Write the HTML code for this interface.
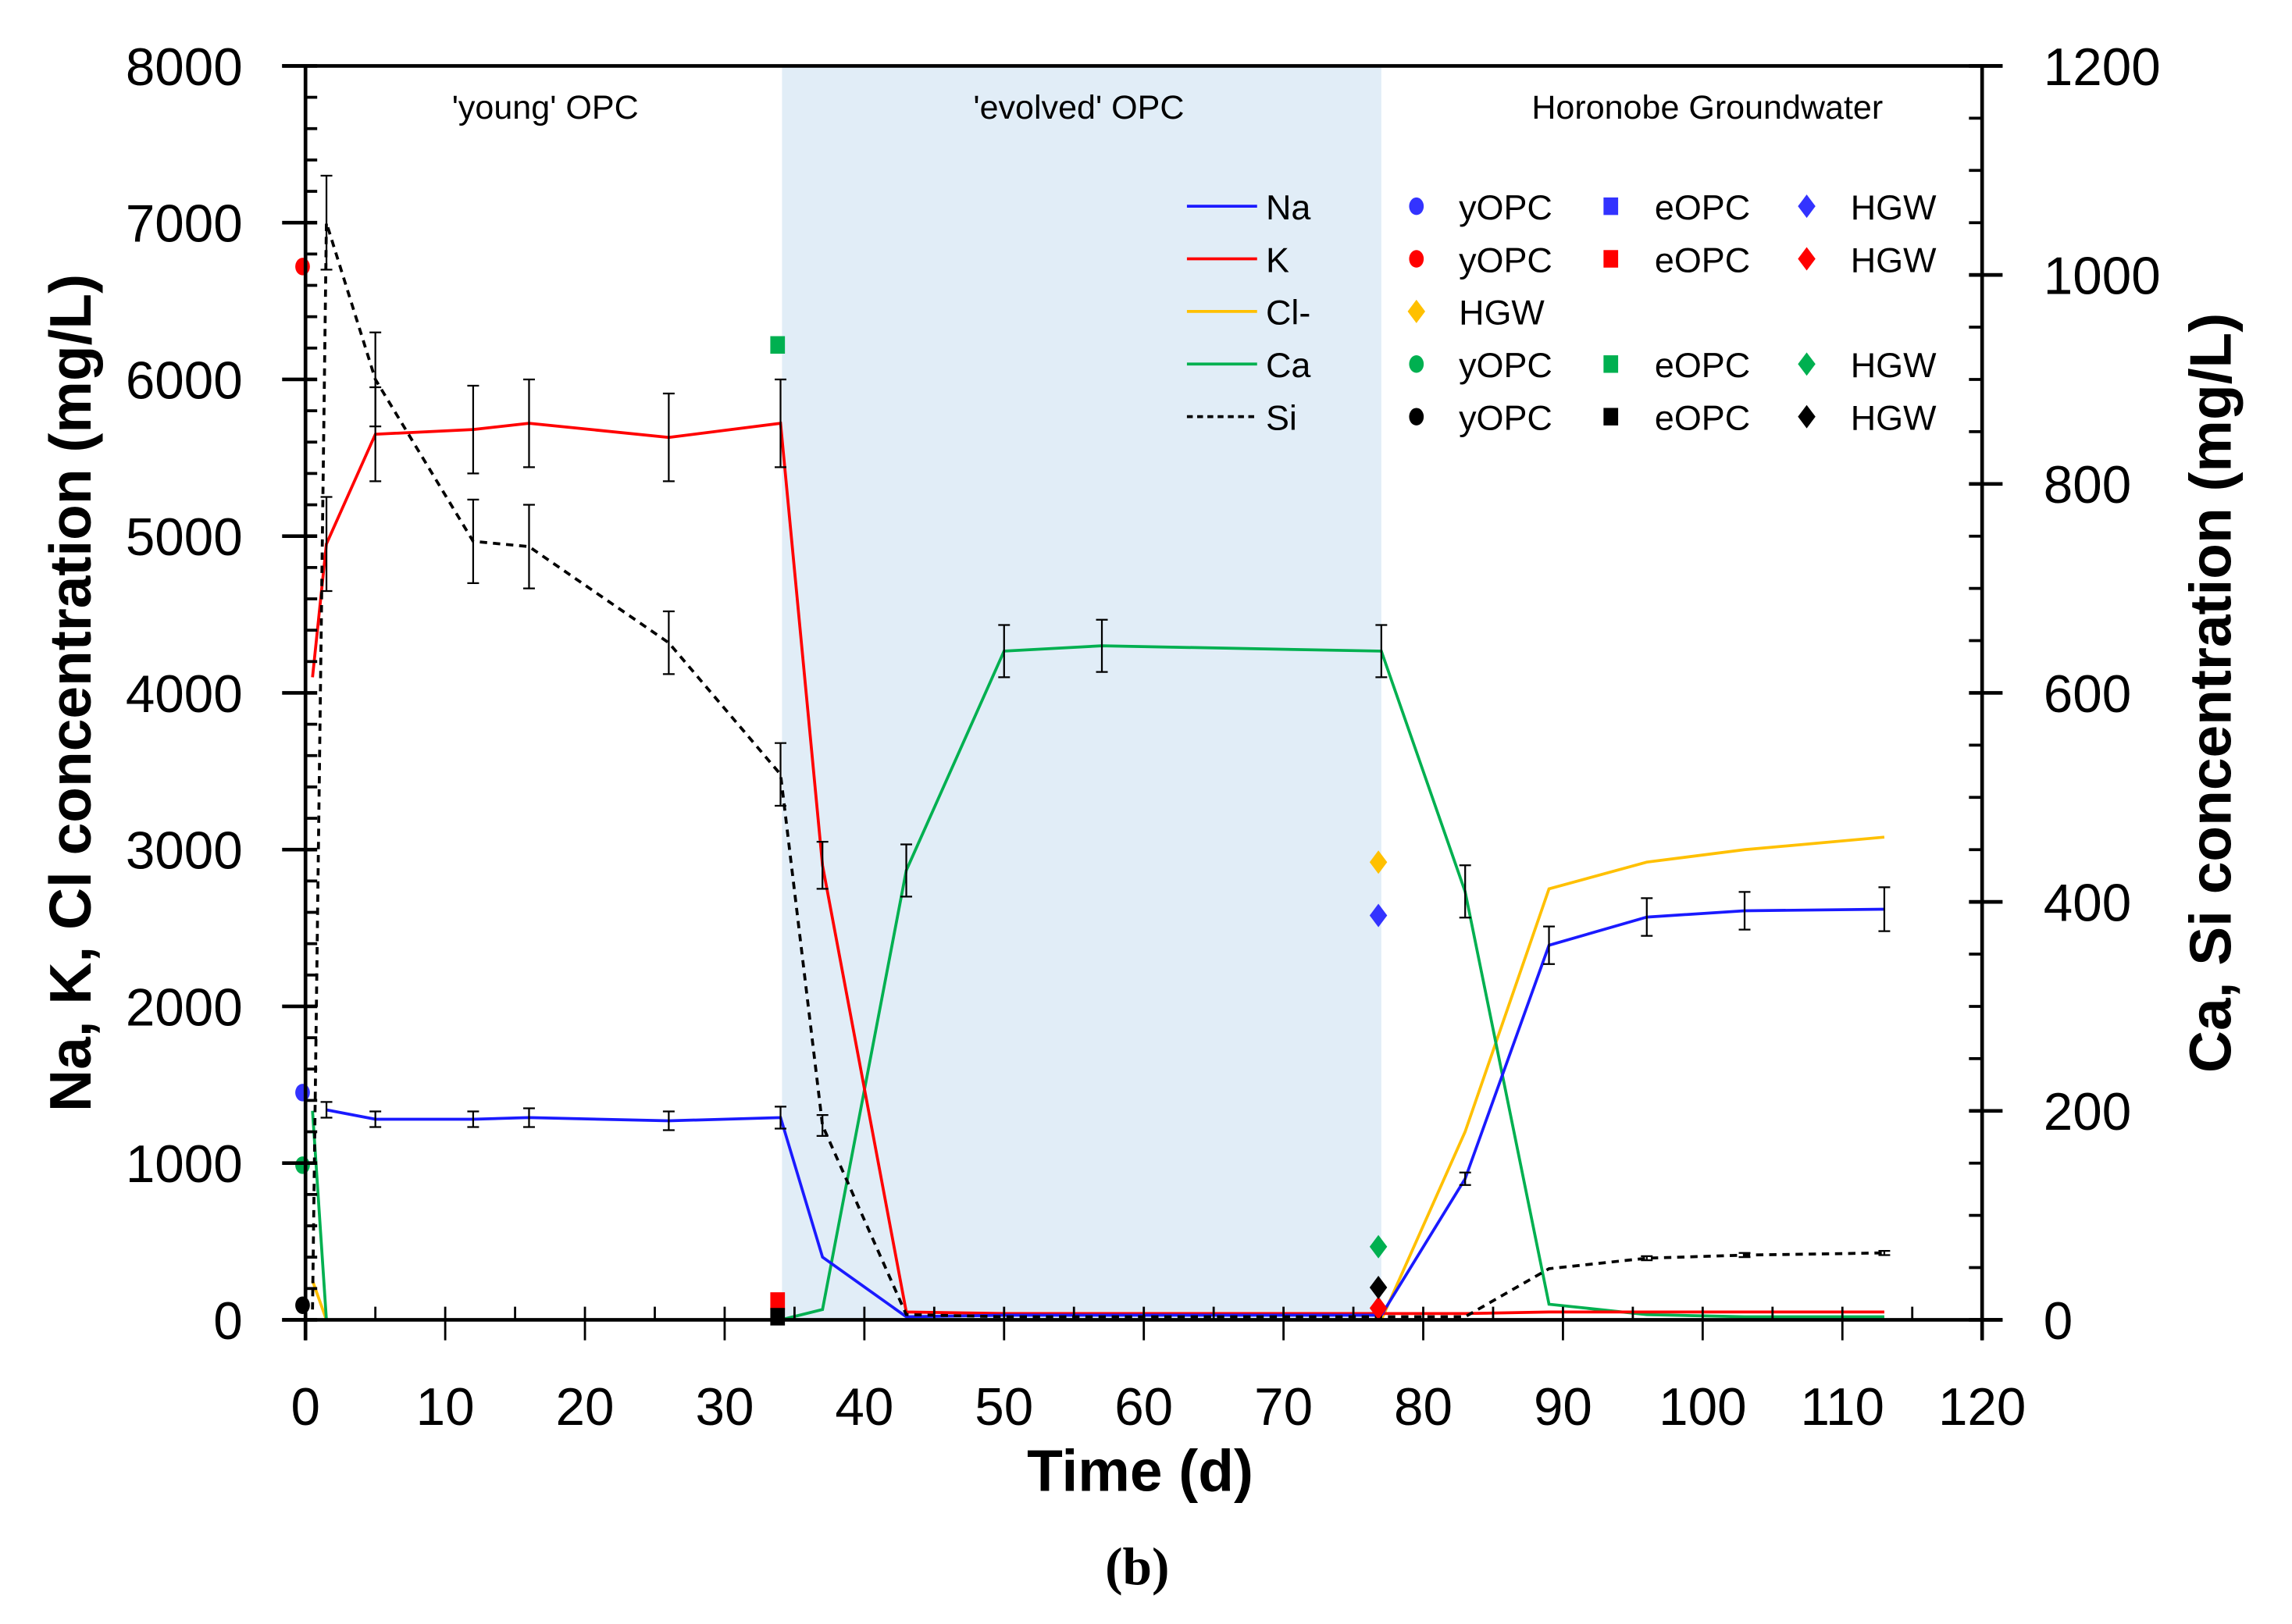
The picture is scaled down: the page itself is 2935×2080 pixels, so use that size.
<!DOCTYPE html>
<html><head><meta charset="utf-8">
<style>
html,body{margin:0;padding:0;background:#fff;}
svg{display:block;}
text{font-family:"Liberation Sans Narrow","Liberation Sans",sans-serif;fill:#000;}
</style></head>
<body>
<svg id="chart" width="2935" height="2080" viewBox="0 0 1568 1111" xmlns="http://www.w3.org/2000/svg">
<rect x="535" y="45" width="410" height="858" fill="#e1edf7"/>
<g id="plot"></g>
<g id="axes"></g>
<text x="373" y="81" font-size="23" text-anchor="middle">'young' OPC</text>
<text x="738" y="81" font-size="23" text-anchor="middle">'evolved' OPC</text>
<text x="1168" y="81" font-size="23" text-anchor="middle">Horonobe Groundwater</text>
<text x="780" y="1020" font-size="40" font-weight="bold" text-anchor="middle">Time (d)</text>
<text transform="translate(62,474) rotate(-90)" font-size="40" font-weight="bold" text-anchor="middle">Na, K, Cl concentration (mg/L)</text>
<text transform="translate(1526,474) rotate(-90)" font-size="40" font-weight="bold" text-anchor="middle">Ca, Si concentration (mg/L)</text>
<text x="778" y="1084" font-size="36" font-weight="bold" text-anchor="middle" style="font-family:'Liberation Serif',serif">(b)</text>
<g id="legend"></g>
</svg>
<script>
const xDays=[0.5,1.5,5,12,16,26,34,37,43,50,57,77,83,89,96,103,113];
const naVals=[null,1340,1280,1280,1290,1270,1290,400,20,30,30,30,900,2390,2570,2610,2620];
const kVals=[4100,4950,5650,5680,5720,5630,5720,2900,50,40,40,40,40,50,50,50,50];
const clVals=[250,0,0,0,0,0,0,0,0,0,0,0,1200,2750,2920,3000,3080];
const caVals=[200,0,0,0,0,0,0,10,430,640,645,640,410,15,5,3,3];
const siVals=[10,1050,900,745,740,648,522,186,5,3,3,3,3,49,59,62,64];
const naErr=[0,50,50,50,60,60,70,0,0,0,0,0,40,120,120,120,140];
const kErr=[0,300,300,280,280,280,280,150,0,0,0,0,0,0,0,0,0];
const caErr=[0,0,0,0,0,0,0,0,25,25,25,25,25,0,0,0,0];
const siErr=[0,45,45,40,40,30,30,10,0,0,0,0,0,0,2,2,2];
const xTicks=[0,10,20,30,40,50,60,70,80,90,100,110,120];
const leftTicks=[0,1000,2000,3000,4000,5000,6000,7000,8000];
const rightTicks=[0,200,400,600,800,1000,1200];
const pointsLeft=[[0,6720,'#ff0000','circle'],[0,1450,'#3333ff','circle'],[34,120,'#ff0000','square'],[77,2920,'#ffc000','diamond'],[77,2580,'#3333ff','diamond'],[77,75,'#ff0000','diamond']];
const pointsRight=[[0,148,'#00b050','circle'],[0,14,'#000','circle'],[34,933,'#00b050','square'],[34,3,'#000','square'],[77,70,'#00b050','diamond'],[77,31,'#000','diamond']];

const X0=209,X1=1356,Y0=903,Y1=45;
const sx=d=>X0+(X1-X0)*d/120;
const syL=v=>Y0-(Y0-Y1)*v/8000;
const syR=v=>Y0-(Y0-Y1)*v/1200;
const NS='http://www.w3.org/2000/svg';
function mk(tag,attrs,parent){const e=document.createElementNS(NS,tag);for(const k in attrs)e.setAttribute(k,attrs[k]);parent.appendChild(e);return e;}
const plot=document.getElementById('plot'),axes=document.getElementById('axes'),legend=document.getElementById('legend');

function series(vals,errs,sy,color,name,dash){
  let pts=[];
  xDays.forEach((d,i)=>{if(vals[i]!==null)pts.push(sx(d).toFixed(1)+','+sy(vals[i]).toFixed(1));});
  const p=mk('polyline',{points:pts.join(' '),fill:'none',stroke:color,'stroke-width':2,'stroke-dasharray':dash||'none'},plot);
  
  
  xDays.forEach((d,i)=>{if(vals[i]===null||!errs[i])return;
    const x=sx(d),a=sy(vals[i]-errs[i]),b=sy(vals[i]+errs[i]);
    const g=mk('path',{d:`M${x},${a}V${b}M${x-4},${a}H${x+4}M${x-4},${b}H${x+4}`,stroke:'#000','stroke-width':1.2,fill:'none'},plot);
    
    
  });
}
series(clVals,clVals.map(()=>0),syL,'#ffc000','cl');
series(caVals,caErr,syR,'#00b050','ca');
series(kVals,kErr,syL,'#ff0000','k');
series(naVals,naErr,syL,'#1a1aff','na');
series(siVals,siErr,syR,'#000','si','5,4');

function marker(x,y,color,shape,parent,name){
  let e;
  if(shape==='circle')e=mk('ellipse',{cx:x,cy:y,rx:5,ry:6,fill:color},parent);
  else if(shape==='square')e=mk('rect',{x:x-5,y:y-6,width:10,height:12,fill:color},parent);
  else e=mk('path',{d:`M${x},${y-8}L${x+6},${y}L${x},${y+8}L${x-6},${y}Z`,fill:color},parent);
  
  
}
pointsLeft.forEach(p=>marker(sx(p[0])-2,syL(p[1]),p[2],p[3],plot,'data-point'));
pointsRight.forEach(p=>marker(sx(p[0])-2,syR(p[1]),p[2],p[3],plot,'data-point'));

// axes
const ax=mk('path',{d:`M${X0-16},${Y1}H${X1+14}M${X0-16},${Y0}H${X1+14}M${X0},${Y1}V${Y0+14}M${X1},${Y1}V${Y0+14}`,stroke:'#000','stroke-width':2.5,fill:'none'},axes);


xTicks.forEach(t=>{const x=sx(t);
  const l=mk('line',{x1:x,x2:x,y1:Y0-9,y2:Y0+14,stroke:'#000','stroke-width':1.5},axes);
  
  
  if(t<120){const m=mk('line',{x1:sx(t+5),x2:sx(t+5),y1:Y0-9,y2:Y0,stroke:'#000','stroke-width':1.5},axes);
  
  }
  const tx=mk('text',{x:x,y:975,'font-size':36,'text-anchor':'middle'},axes);tx.textContent=t;
  
  
});
leftTicks.forEach(t=>{const y=syL(t);
  const l=mk('line',{x1:X0-16,x2:X0+8,y1:y,y2:y,stroke:'#000','stroke-width':2.5},axes);
  
  
  for(let k=1;k<5&&t<8000;k++){const yy=syL(t+k*200);
    const m=mk('line',{x1:X0,x2:X0+8,y1:yy,y2:yy,stroke:'#000','stroke-width':2},axes);
    
    }
  const tx=mk('text',{x:166,y:y+13,'font-size':36,'text-anchor':'end'},axes);tx.textContent=t;
  
  
});
rightTicks.forEach(t=>{const y=syR(t);
  const l=mk('line',{x1:X1-9,x2:X1+14,y1:y,y2:y,stroke:'#000','stroke-width':2.5},axes);
  
  
  for(let k=1;k<4&&t<1200;k++){const yy=syR(t+k*50);
    const m=mk('line',{x1:X1-9,x2:X1,y1:yy,y2:yy,stroke:'#000','stroke-width':2},axes);
    
    }
  const tx=mk('text',{x:1398,y:y+13,'font-size':36,'text-anchor':'start'},axes);tx.textContent=t;
  
  
});

// legend
const lineLeg=[['Na','#1a1aff',''],['K','#ff0000',''],['Cl-','#ffc000',''],['Ca','#00b050',''],['Si','#000','4,3']];
lineLeg.forEach((l,i)=>{const y=141+i*36;
  const ln=mk('line',{x1:812,x2:860,y1:y,y2:y,stroke:l[1],'stroke-width':2,'stroke-dasharray':l[2]||'none'},legend);
  
  
  const t=mk('text',{x:866,y:y+9,'font-size':24},legend);t.textContent=l[0];
  
  
});
const rows=[['#3333ff',['circle','square','diamond']],['#ff0000',['circle','square','diamond']],['#ffc000',['diamond']],['#00b050',['circle','square','diamond']],['#000',['circle','square','diamond']]];
const labs={circle:'yOPC',square:'eOPC',diamond:'HGW'};
const colX={circle:[969,998],square:[1102,1132],diamond:[1236,1266]};
rows.forEach((r,i)=>{const y=141+i*36;
  r[1].forEach(s=>{let cx=colX[s];
    if(i===2){cx=[969,998];}
    marker(cx[0],y,r[0],s,legend,'legend-marker');
    const t=mk('text',{x:cx[1],y:y+9,'font-size':24},legend);t.textContent=labs[s];
    
    
  });
});
</script>
</body></html>
